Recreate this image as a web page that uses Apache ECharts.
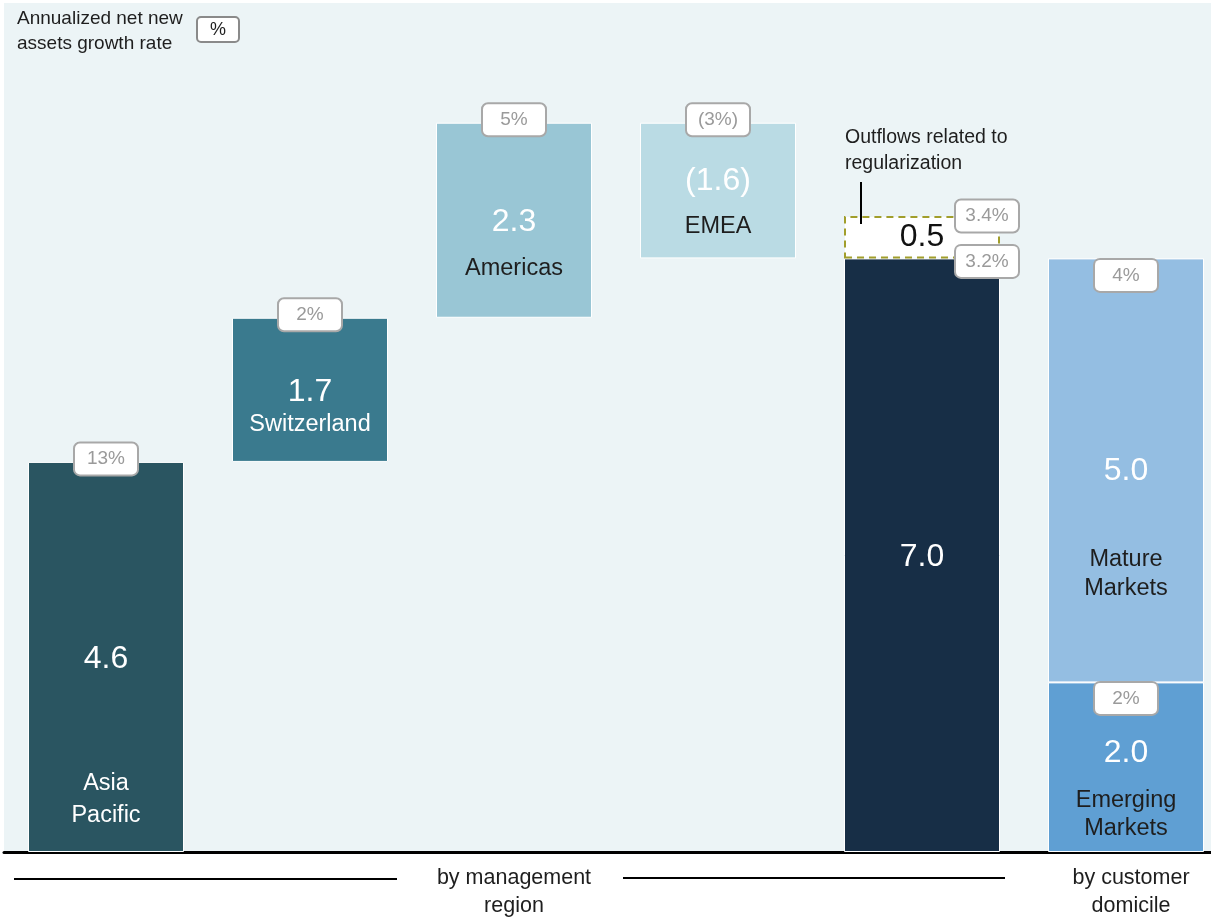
<!DOCTYPE html>
<html><head><meta charset="utf-8">
<script src="https://cdn.jsdelivr.net/npm/echarts@6/dist/echarts.min.js"></script>
<style>html,body{margin:0;padding:0;background:#fff}#c{width:1211px;height:918px}</style>
</head><body><div id="c"></div>
<script>
// ---------- data ----------
const categories = ['Asia Pacific', 'Switzerland', 'Americas', 'EMEA', 'Total', 'Customer domicile'];
const regionNames = ['Asia\nPacific', 'Switzerland', 'Americas', 'EMEA'];
const regionValues = [4.6, 1.7, 2.3, -1.6];
const regionGrowth = ['13%', '2%', '5%', '(3%)'];
const totalValue = 7.0;
const regularizationValue = 0.5;
const totalGrowth = ['3.2%', '3.4%'];
const domicileNames = ['Emerging\nMarkets', 'Mature\nMarkets'];
const domicileValues = [2.0, 5.0];
const domicileGrowth = ['2%', '4%'];
const groupLabels = ['by management\nregion', 'by customer\ndomicile'];
const legendText = 'Annualized net new\nassets growth rate';
const legendBadge = '%';
const annotationText = 'Outflows related to\nregularization';

// ---------- styles ----------
const FONT = '"Liberation Sans", Arial, Helvetica, sans-serif';
const regionColors = ['#2a5561', '#3a7a8e', '#99c6d5', '#badbe4'];
const regionNameColors = ['#ffffff', '#ffffff', '#1e1e1e', '#1e1e1e'];
const regionNameOffsets = [-52, -37, -49, -32];
const regionNameLineHeights = [32, 29, 29, 29];
const regionValueOffsets = [2, 2, 2, -9];
const totalColor = '#172e46';
const domicileColors = ['#5f9fd3', '#94bee2'];
const domicileNameOffsets = [-37, -108];
const domicileValueOffsets = [-14, 1];
const BAR_W = 156;

const fmt = v => v < 0 ? '(' + Math.abs(v).toFixed(1) + ')' : v.toFixed(1);

// waterfall geometry from values
let cum = 0;
const base = [], heights = [], tops = [], bottoms = [];
regionValues.forEach(v => {
  const s = cum; cum += v;
  const lo = Math.min(s, cum), hi = Math.max(s, cum);
  base.push(+lo.toFixed(4)); heights.push(+(hi - lo).toFixed(4));
  tops.push(+hi.toFixed(4)); bottoms.push(+lo.toFixed(4));
});
const nReg = regionValues.length;
const pad = (arr, before, after) => Array(before).fill('-').concat(arr, Array(after).fill('-'));

const valueLabel = (text, color, offY) => ({
  show: true, position: 'inside', formatter: text, color: color,
  fontFamily: FONT, fontSize: 32, offset: [0, offY]
});
const badgeLabel = (text, offX, offY) => ({
  show: true, position: 'inside', formatter: text, offset: [offX, offY],
  backgroundColor: '#ffffff', borderColor: '#a8a8a8', borderWidth: 2, borderRadius: 5,
  width: 38, align: 'center', verticalAlign: 'middle',
  padding: [5, 12, 4, 12], lineHeight: 22, opacity: 1,
  color: '#9a9a9a', fontFamily: FONT, fontSize: 19
});
const nameLabel = (text, color, offY, lh) => ({
  show: true, position: 'inside', formatter: text, offset: [0, offY], opacity: 1,
  color: color, fontFamily: FONT, fontSize: 23.5, lineHeight: lh || 29, align: 'center'
});

const hiddenSymbol = { color: 'rgba(0,0,0,0)', opacity: 1 };

const series = [
  { name: 'base', type: 'bar', stack: 'w', barWidth: BAR_W, silent: true,
    itemStyle: { color: 'rgba(0,0,0,0)' }, data: pad(base, 0, 2) },
  { name: 'regions', type: 'bar', stack: 'w', barWidth: BAR_W,
    itemStyle: { borderColor: '#ffffff', borderWidth: 1 },
    data: pad(heights.map((h, i) => ({
      value: h, itemStyle: { color: regionColors[i] },
      label: valueLabel(fmt(regionValues[i]), '#ffffff', regionValueOffsets[i])
    })), 0, 2) },
  { name: 'total', type: 'bar', stack: 'w', barWidth: BAR_W,
    itemStyle: { color: totalColor, borderColor: '#ffffff', borderWidth: 1 },
    data: pad([{ value: totalValue, label: valueLabel(fmt(totalValue), '#ffffff', 2) }], nReg, 1) },
  { name: 'regularization', type: 'bar', stack: 'w', barWidth: BAR_W,
    itemStyle: { color: '#ffffff', borderColor: '#a19e2b', borderWidth: 2, borderType: [7, 5] },
    data: pad([{ value: regularizationValue, label: valueLabel(fmt(regularizationValue), '#111111', 0) }], nReg, 1) },
  { name: 'emerging', type: 'bar', stack: 'w', barWidth: BAR_W,
    itemStyle: { color: domicileColors[0], borderColor: '#ffffff', borderWidth: 1 },
    data: pad([{ value: domicileValues[0], label: valueLabel(fmt(domicileValues[0]), '#ffffff', domicileValueOffsets[0]) }], nReg + 1, 0) },
  { name: 'mature', type: 'bar', stack: 'w', barWidth: BAR_W,
    itemStyle: { color: domicileColors[1], borderColor: '#ffffff', borderWidth: 1 },
    data: pad([{ value: domicileValues[1], label: valueLabel(fmt(domicileValues[1]), '#ffffff', domicileValueOffsets[1]) }], nReg + 1, 0) },
  // names
  { name: 'names', type: 'scatter', symbolSize: 1, z: 6, silent: true,
    itemStyle: hiddenSymbol,
    data: regionNames.map((n, i) => ({ value: [categories[i], bottoms[i]], label: nameLabel(n, regionNameColors[i], regionNameOffsets[i], regionNameLineHeights[i]) }))
      .concat([
        { value: [categories[nReg + 1], 0], label: nameLabel(domicileNames[0], '#1e1e1e', domicileNameOffsets[0], 28) },
        { value: [categories[nReg + 1], domicileValues[0]], label: nameLabel(domicileNames[1], '#1e1e1e', domicileNameOffsets[1], 29) }
      ]) },
  // growth-rate badges
  { name: 'badges', type: 'scatter', symbolSize: 1, z: 7, silent: true,
    itemStyle: hiddenSymbol,
    data: regionGrowth.map((g, i) => ({ value: [categories[i], tops[i]], label: badgeLabel(g, 0, -3) }))
      .concat([
        { value: [categories[nReg], totalValue], label: badgeLabel(totalGrowth[0], 65, 3) },
        { value: [categories[nReg], totalValue + regularizationValue], label: badgeLabel(totalGrowth[1], 65, 0) },
        { value: [categories[nReg + 1], domicileValues[0]], label: badgeLabel(domicileGrowth[0], 0, 16) },
        { value: [categories[nReg + 1], domicileValues[0] + domicileValues[1]], label: badgeLabel(domicileGrowth[1], 0, 17) }
      ]) }
];

const chart = echarts.init(document.getElementById('c'), null, { renderer: 'canvas' });
chart.setOption({
  animation: false,
  grid: { left: 4, top: 4, width: 1224, height: 848, outerBoundsMode: 'none', containLabel: false },
  xAxis: { type: 'category', data: categories, boundaryGap: true,
    axisLine: { show: true, lineStyle: { color: '#000000', width: 3 } },
    axisTick: { show: false }, axisLabel: { show: false }, splitLine: { show: false } },
  yAxis: { type: 'value', min: 0, max: 10, show: false, splitLine: { show: false } },
  series: series
});

const cx = i => chart.convertToPixel({ xAxisIndex: 0 }, categories[i]);
const totalLeft = cx(nReg) - BAR_W / 2;
const textStyle = (extra) => Object.assign({ fontFamily: FONT, fill: '#1e1e1e' }, extra);

chart.setOption({
  graphic: [
    { type: 'rect', z: -10, silent: true, shape: { x: 4, y: 3, width: 1207, height: 849 }, style: { fill: '#ecf4f6' } },
    { type: 'text', z: 10, left: 17, top: 6, style: textStyle({ text: legendText, fontSize: 19, lineHeight: 25 }) },
    { type: 'rect', z: 10, shape: { x: 197, y: 17, width: 42, height: 25, r: 4 }, style: { fill: '#ffffff', stroke: '#8a8a8a', lineWidth: 2 } },
    { type: 'text', z: 11, x: 218, y: 30, style: textStyle({ text: legendBadge, fontSize: 18, align: 'center', verticalAlign: 'middle' }) },
    { type: 'text', z: 10, x: totalLeft + 1, y: 125, style: textStyle({ text: annotationText, fontSize: 19.5, lineHeight: 26 }) },
    { type: 'line', z: 10, shape: { x1: totalLeft + 17, y1: 182, x2: totalLeft + 17, y2: 224 }, style: { stroke: '#000000', lineWidth: 2 } },
    { type: 'line', z: 10, shape: { x1: 14, y1: 879, x2: 397, y2: 879 }, style: { stroke: '#000000', lineWidth: 2 } },
    { type: 'line', z: 10, shape: { x1: 623, y1: 878, x2: 1005, y2: 878 }, style: { stroke: '#000000', lineWidth: 2 } },
    { type: 'text', z: 10, x: cx(2), y: 864, style: textStyle({ text: groupLabels[0], fontSize: 21.5, lineHeight: 28, align: 'center' }) },
    { type: 'text', z: 10, x: cx(nReg + 1) + 5, y: 864, style: textStyle({ text: groupLabels[1], fontSize: 21.5, lineHeight: 28, align: 'center' }) }
  ]
});
</script>
</body></html>
